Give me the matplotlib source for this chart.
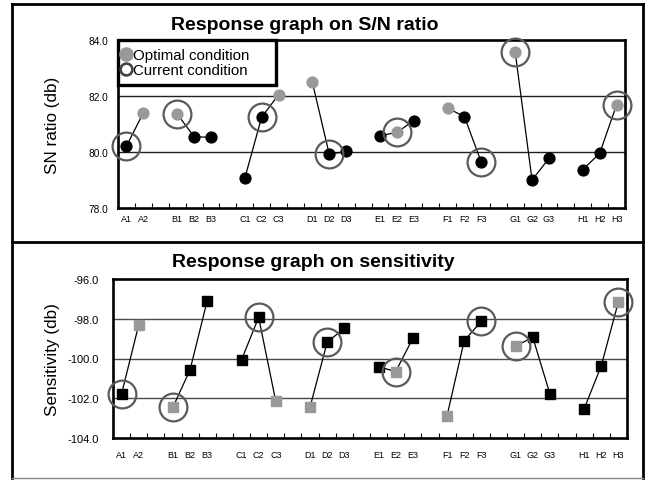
import matplotlib
matplotlib.use("Agg")
import matplotlib.pyplot as plt
from matplotlib.lines import Line2D
from matplotlib.patches import Rectangle

plt.rcParams['font.family'] = ['Liberation Sans', 'DejaVu Sans']

# ---- data ----
factors = ['A', 'B', 'C', 'D', 'E', 'F', 'G', 'H']
levels = [['A1', 'A2'],
          ['B1', 'B2', 'B3'],
          ['C1', 'C2', 'C3'],
          ['D1', 'D2', 'D3'],
          ['E1', 'E2', 'E3'],
          ['F1', 'F2', 'F3'],
          ['G1', 'G2', 'G3'],
          ['H1', 'H2', 'H3']]
sn_ratio = [[80.21, 81.40],
            [81.36, 80.55, 80.52],
            [79.06, 81.24, 82.05],
            [82.49, 79.92, 80.02],
            [80.58, 80.70, 81.12],
            [81.57, 81.26, 79.63],
            [83.58, 79.00, 79.77],
            [79.37, 79.95, 81.68]]
sensitivity = [[-101.78, -98.31],
               [-102.45, -100.56, -97.09],
               [-100.07, -97.93, -102.15],
               [-102.45, -99.18, -98.48],
               [-100.41, -100.66, -98.98],
               [-102.87, -99.10, -98.13],
               [-99.38, -98.93, -101.78],
               [-102.53, -100.36, -97.14]]
optimal = ['A2', 'B1', 'C3', 'D1', 'E2', 'F1', 'G1', 'H3']
current = ['A1', 'B1', 'C2', 'D2', 'E2', 'F3', 'G1', 'H3']

sn_yticks = [78.0, 80.0, 82.0, 84.0]
sens_yticks = [-104.0, -102.0, -100.0, -98.0, -96.0]

# ---- layout helpers ----
W, H = 647, 481
fig = plt.figure(figsize=(W / 100, H / 100), dpi=100)
fig.patch.set_facecolor('white')

# slot positions: levels of each factor followed by one empty slot
positions = []
s = 0
for lv in levels:
    positions.append([s + i for i in range(len(lv))])
    s += len(lv) + 1
nslots = s - 1

GRAY = '#999999'
RING = '#5a5a5a'


def draw_panel(ax, values, marker, msize, ylim, yticks, grid_vals, grid_color,
               ypad, xpad):
    for g in grid_vals:
        ax.axhline(g, color=grid_color, lw=1.0, zorder=1)
    for lv, pos, vals in zip(levels, positions, values):
        ax.plot(pos, vals, color='black', lw=0.9, zorder=2)
        for name, x, v in zip(lv, pos, vals):
            fc = GRAY if name in optimal else 'black'
            ax.plot([x], [v], marker=marker, ms=msize, mfc=fc, mec=fc,
                    ls='none', zorder=3)
            if name in current:
                ax.plot([x], [v], marker='o', ms=20, mfc='none', mec=RING,
                        mew=1.6, ls='none', zorder=6, clip_on=False)
    ax.set_xlim(0 - 0.5, nslots - 0.5)
    ax.set_ylim(*ylim)
    centers = [p for pos in positions for p in pos]
    names = [n for lv in levels for n in lv]
    ax.set_xticks(centers)
    ax.set_xticklabels(names)
    ax.set_xticks([i + 0.5 for i in range(nslots - 1)], minor=True)
    ax.tick_params(axis='x', which='major', length=0, labelsize=6.5, pad=xpad)
    ax.tick_params(axis='x', which='minor', direction='in', length=3.5,
                   width=0.8, color='black', bottom=True)
    ax.set_yticks(yticks)
    ax.set_yticklabels([f'{t:.1f}' for t in yticks])
    ax.tick_params(axis='y', length=0, pad=ypad)
    for sp in ax.spines.values():
        sp.set_linewidth(1.9)
        sp.set_color('black')
        sp.set_zorder(5)


# ---- top panel ----
ax1 = fig.add_axes([118 / W, 1 - 209 / H, 507 / W, 168 / H])
draw_panel(ax1, sn_ratio, 'o', 7.8, (78, 84), sn_yticks, [80, 82], '#202020',
           7, 4.5)
ax1.tick_params(axis='y', labelsize=7.3)

# legend box (drawn as a patch in figure pixels)
lx0, lx1, ly0, ly1 = 118, 276, 41, 86
fig.add_artist(Rectangle((lx0 / W, 1 - ly1 / H), (lx1 - lx0) / W,
                         (ly1 - ly0) / H, transform=fig.transFigure,
                         facecolor='white', edgecolor='black', lw=2.4,
                         zorder=10))
handles = [Line2D([], [], marker='o', ls='none', ms=9.5, mfc=GRAY, mec=GRAY),
           Line2D([], [], marker='o', ls='none', ms=8.5, mfc='white',
                  mec='#444444', mew=1.9)]
leg = fig.legend(handles, ['Optimal condition', 'Current condition'],
                 loc='upper left',
                 bbox_to_anchor=(121 / W, 1 - 49 / H),
                 borderaxespad=0, borderpad=0.0,
                 fontsize=10.8, frameon=False,
                 handlelength=0.7, handletextpad=0.12,
                 labelspacing=0.05)
leg.set_zorder(11)

fig.text(305 / W, 1 - 25 / H, 'Response graph on S/N ratio', ha='center',
         va='center', fontsize=14, fontweight='bold')
fig.text(52 / W, 1 - 125 / H, 'SN ratio (db)', ha='center', va='center',
         rotation=90, fontsize=12.3)

# ---- bottom panel ----
ax2 = fig.add_axes([113 / W, 1 - 439 / H, 514 / W, 159 / H])
draw_panel(ax2, sensitivity, 's', 7.3, (-104, -96), sens_yticks,
           [-98, -100, -102], '#4a4a4a', 10, 8.5)
ax2.tick_params(axis='y', labelsize=8)

fig.text(313 / W, 1 - 263 / H, 'Response graph on sensitivity', ha='center',
         va='center', fontsize=14, fontweight='bold')
fig.text(52 / W, 1 - 360 / H, 'Sensitivity (db)', ha='center', va='center',
         rotation=90, fontsize=12.3)

# ---- outer frame ----
x0, x1 = 12 / W, 643 / W
yt, yd, yb = 1 - 5 / H, 1 - 243 / H, 1 - 479 / H
for xs, ys, c, lw in [([x0, x0], [yb, yt], 'black', 2.0),
                      ([x1, x1], [yb, yt], 'black', 2.0),
                      ([x0, x1], [yt, yt], 'black', 2.0),
                      ([x0, x1], [yd, yd], 'black', 2.0),
                      ([x0, x1], [yb, yb], '#888888', 1.0)]:
    fig.add_artist(Line2D(xs, ys, color=c, lw=lw, transform=fig.transFigure))

fig.savefig('out.png', dpi=100, facecolor='white')
